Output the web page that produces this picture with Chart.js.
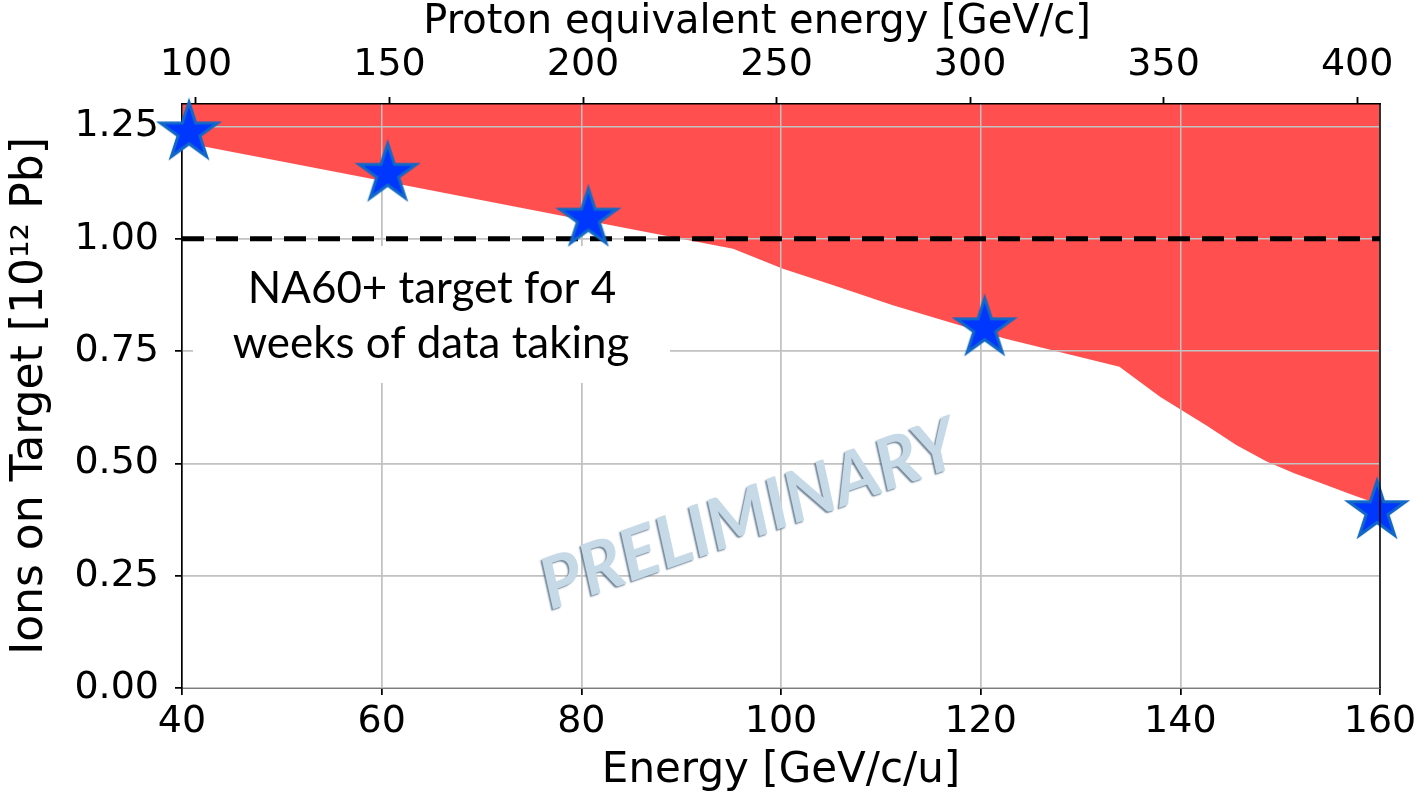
<!DOCTYPE html>
<html>
<head>
<meta charset="utf-8">
<script src="https://cdn.jsdelivr.net/npm/chart.js@4.4.1/dist/chart.umd.min.js"></script>
<style>
  html, body { margin: 0; padding: 0; background: #fff; }
  #chart { display: block; }
</style>
</head>
<body>
<canvas id="chart" width="1422" height="793"></canvas>
<script>
/* ---- values ---- */
const limitEnergy = [40, 60, 80, 95.2, 100.2, 105.7, 111.2, 116.8, 122.4, 127.9, 133.9, 138.0, 142.7, 145.6, 148.6, 151.4, 154.2, 157.0, 160];
const limitIons   = [1.215, 1.129, 1.043, 0.978, 0.933, 0.893, 0.852, 0.815, 0.778, 0.748, 0.715, 0.648, 0.583, 0.541, 0.505, 0.478, 0.455, 0.432, 0.408];

const starEnergy = [40.7, 60.6, 80.7, 120.4, 159.7];
const starIons   = [1.237, 1.145, 1.045, 0.801, 0.394];

const targetEnergy = [40, 160];
const targetIons   = [1.0, 1.0];

const energyTicks = [40, 60, 80, 100, 120, 140, 160];
const protonTicks = [100, 150, 200, 250, 300, 350, 400];
const ionTicks    = [0, 0.25, 0.5, 0.75, 1.0, 1.25];

const noteLines = ['NA60+ target for 4', 'weeks of data taking'];
const watermark = 'PRELIMINARY';
const topTitle = 'Proton equivalent energy [GeV/c]';

const GRID = '#c2c2c2';
const FONT = 'DejaVu Sans';

Chart.defaults.font.family = FONT;
Chart.defaults.color = '#000';

const toPoints = (xs, ys) => xs.map((x, i) => ({ x: x, y: ys[i] }));

// matplotlib-like '*' marker
function makeStar(r, fill, edge, lw) {
    const size = Math.ceil(2 * (r + 3 * lw));
    const c = document.createElement('canvas');
    c.width = c.height = size;
    const g = c.getContext('2d');
    const cx = size / 2, cy = size / 2;
    g.beginPath();
    for (let i = 0; i < 10; i++) {
        const rad = i % 2 === 0 ? r : r * 0.381966;
        const a = -Math.PI / 2 + i * Math.PI / 5;
        g.lineTo(cx + rad * Math.cos(a), cy + rad * Math.sin(a));
    }
    g.closePath();
    g.fillStyle = fill;
    g.fill();
    g.lineJoin = 'miter';
    g.miterLimit = 10;
    g.lineWidth = lw;
    g.strokeStyle = edge;
    g.stroke();
    return c;
}
const starImg = makeStar(30, '#0037ff', '#1168c8', 3);

const overlay = {
    id: 'overlay',
    afterDatasetDraw(chart, args) {
        if (args.index !== 0) return;
        const ctx = chart.ctx;
        // grid sits on top of the red band, like the original
        Object.values(chart.scales).forEach(s => {
            s.drawGrid(chart.chartArea);
            if (s.drawBorder) s.drawBorder();
        });
        // text box
        ctx.save();
        ctx.fillStyle = '#fff';
        ctx.fillRect(193, 246, 477, 137);
        ctx.fillStyle = '#000';
        ctx.font = '100px Lato';
        const size = 100 * 397 / ctx.measureText(noteLines[1]).width;
        ctx.font = size.toFixed(1) + 'px Lato';
        ctx.textAlign = 'center';
        ctx.textBaseline = 'alphabetic';
        ctx.fillText(noteLines[0], 432, 303);
        ctx.fillText(noteLines[1], 431, 358);
        ctx.restore();
    },
    afterDraw(chart) {
        const ctx = chart.ctx;
        const a = chart.chartArea;
        ctx.save();
        ctx.strokeStyle = '#000';
        ctx.lineWidth = 1.5;
        ctx.beginPath();
        ctx.moveTo(a.right, a.top);
        ctx.lineTo(a.right, a.bottom);
        ctx.stroke();

        // top axis title (sits a little left of centre in the original)
        ctx.fillStyle = '#000';
        ctx.font = '40px "' + FONT + '"';
        ctx.textAlign = 'center';
        ctx.textBaseline = 'middle';
        ctx.fillText(topTitle, 757, 23);

        ctx.font = 'italic bold 100px Lato';
        const size = 100 * 438 / ctx.measureText(watermark).width;
        ctx.font = 'italic bold ' + size.toFixed(1) + 'px Lato';
        ctx.translate(757, 537);
        ctx.rotate(-19.5 * Math.PI / 180);
        ctx.textAlign = 'center';
        ctx.textBaseline = 'alphabetic';
        ctx.shadowColor = 'rgba(70, 95, 120, 0.75)';
        ctx.shadowOffsetX = -1.5;
        ctx.shadowOffsetY = 1.5;
        ctx.shadowBlur = 1.5;
        ctx.fillStyle = '#c6d9e7';
        ctx.fillText(watermark, 0, 0);
        ctx.restore();
    }
};

const tickGrid = { color: GRID, lineWidth: 1.5, tickColor: '#000', tickLength: 7, tickWidth: 1.5 };

new Chart(document.getElementById('chart'), {
    type: 'line',
    data: {
        datasets: [
            {
                label: 'limit',
                data: toPoints(limitEnergy, limitIons),
                fill: 'end',
                backgroundColor: '#ff4f4f',
                borderWidth: 0,
                pointRadius: 0,
                tension: 0,
                order: 3,
            },
            {
                label: 'NA60+ target',
                data: toPoints(targetEnergy, targetIons),
                borderColor: '#000',
                borderWidth: 5,
                borderDash: [22, 12],
                borderCapStyle: 'butt',
                pointRadius: 0,
                fill: false,
                order: 2,
            },
            {
                label: 'beam',
                data: toPoints(starEnergy, starIons),
                showLine: false,
                pointStyle: starImg,
                pointRadius: 34,
                clip: false,
                order: 1,
            },
        ],
    },
    options: {
        responsive: false,
        animation: false,
        events: [],
        devicePixelRatio: 1,
        layout: { padding: { left: 0, right: 42, top: 0, bottom: 0 } },
        plugins: { legend: { display: false }, tooltip: { enabled: false } },
        scales: {
            x: {
                type: 'linear', position: 'bottom', min: 40, max: 160,
                afterBuildTicks: s => { s.ticks = energyTicks.map(v => ({ value: v })); },
                afterFit: s => { s.height = 105; },
                grid: tickGrid,
                border: { color: '#000', width: 1.5 },
                ticks: { color: '#000', font: { size: 38 }, padding: 4, maxRotation: 0, autoSkip: false },
                title: { display: true, text: 'Energy [GeV/c/u]', color: '#000', font: { size: 42, lineHeight: 1.05 }, padding: 0 },
            },
            x2: {
                type: 'linear', position: 'top', min: 96.4, max: 405.9,
                afterBuildTicks: s => { s.ticks = protonTicks.map(v => ({ value: v })); },
                afterFit: s => { s.height = 104; },
                grid: { drawOnChartArea: false, color: GRID, tickColor: '#000', tickLength: 7, tickWidth: 1.5 },
                border: { color: '#000', width: 1.5 },
                ticks: { color: '#000', font: { size: 38 }, padding: 9, maxRotation: 0, autoSkip: false },
                title: { display: false },
            },
            y: {
                type: 'linear', min: 0, max: 1.3,
                afterBuildTicks: s => { s.ticks = ionTicks.map(v => ({ value: v })); },
                afterFit: s => { s.width = 182; },
                grid: tickGrid,
                border: { color: '#000', width: 1.5 },
                ticks: { color: '#000', font: { size: 38 }, padding: 16, callback: v => v.toFixed(2) },
                title: { display: true, text: 'Ions on Target [10¹² Pb]', color: '#000', font: { size: 44 }, padding: { top: 4, bottom: 0 } },
            },
        },
    },
    plugins: [overlay],
});
</script>
</body>
</html>
